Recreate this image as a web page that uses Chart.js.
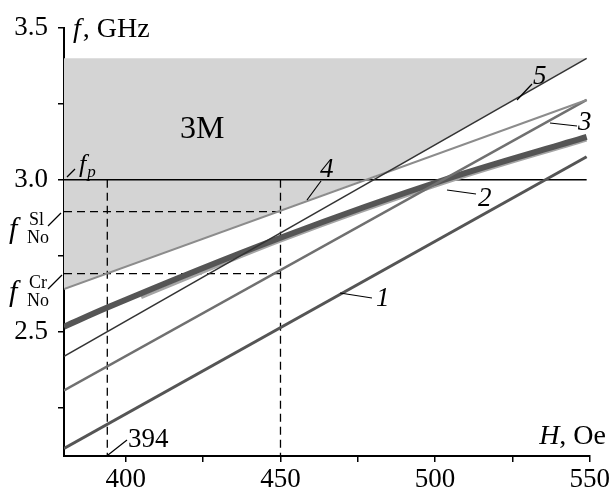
<!DOCTYPE html>
<html>
<head>
<meta charset="utf-8">
<script src="https://cdn.jsdelivr.net/npm/chart.js@4.4.1/dist/chart.umd.min.js"></script>
<style>
  html, body { margin: 0; padding: 0; background: #fff; }
</style>
</head>
<body>
<canvas id="grafico" width="612" height="490"></canvas>
<script>
// ticks dos eixos (menores sem rótulo)
const xTicks = [400, 425, 450, 475, 500, 525, 550];
const xLabels = [400, 450, 500, 550];
const yTicks = [2.25, 2.5, 2.75, 3.0, 3.25, 3.5];
const yLabels = [2.5, 3.0, 3.5];

// curvas 1..5, H em Oe e f em GHz
const h1 = [380, 549];
const f1 = [2.115, 3.076];
const h2 = [380, 394, 450, 503, 549];
const f2 = [2.516, 2.579, 2.809, 3.0, 3.141];
const h2b = [405, 450, 503, 549];
const f2b = [2.612, 2.798, 2.989, 3.131];
const h3 = [380, 549];
const f3 = [2.306, 3.263];
const h4 = [380, 549];
const f4 = [2.640, 3.263];
const h5 = [380, 549];
const f5 = [2.418, 3.400];

// região 3M (cinza)
const zoneH = [380, 487, 549];
const zoneLow = [2.640, 3.037, 3.400];
const zoneTop = [3.4, 3.4, 3.4];

// linhas de referência
const fp = 3.0;
const fSl = 2.895;
const fCr = 2.691;
const hA = 394;
const hB = 450;
const hMin = 380;
const hMax = 549;
const fMin = 2.09;

const pts = (hs, fs) => hs.map((h, i) => ({ x: h, y: fs[i] }));

function linha(data, cor, largura, ordem, extra) {
  return Object.assign({
    data,
    borderColor: cor,
    borderWidth: largura,
    pointRadius: 0,
    fill: false,
    tension: 0,
    order: ordem,
  }, extra || {});
}

const tracejado = { borderDash: [8, 5], borderCapStyle: 'butt' };

// textos e setinhas das legendas
const notas = {
  id: 'notas',
  afterDraw(chart) {
    const c = chart.ctx;
    c.save();
    c.fillStyle = '#000';
    c.strokeStyle = '#000';
    c.lineWidth = 1.2;
    c.textBaseline = 'alphabetic';
    const fam = '"Liberation Serif", "DejaVu Serif", serif';
    const txt = (s, x, y, size, style) => {
      c.font = (style || '') + ' ' + size + 'px ' + fam;
      c.fillText(s, x, y);
      return c.measureText(s).width;
    };
    const larg = (s, size, style) => {
      c.font = (style || '') + ' ' + size + 'px ' + fam;
      return c.measureText(s).width;
    };
    const seg = (x1, y1, x2, y2) => {
      c.beginPath(); c.moveTo(x1, y1); c.lineTo(x2, y2); c.stroke();
    };

    // f, GHz
    let w = txt('f', 73, 37, 28, 'italic');
    txt(', GHz', 73 + w + 2, 37, 28);

    // H, Oe
    const wH = larg('H', 28, 'italic');
    const wO = larg(', Oe', 28);
    txt('H', 606 - wH - wO, 444, 28, 'italic');
    txt(', Oe', 606 - wO, 444, 28);

    // 3M
    txt('3M', 180, 138, 32);

    // f_p
    seg(67, 177, 75, 169);
    w = txt('f', 79, 172, 26, 'italic');
    txt('p', 79 + w + 1, 177, 17, 'italic');

    // f_No^Sl
    seg(48, 226, 61, 213);
    txt('f', 9, 238, 30, 'italic');
    txt('Sl', 29, 225, 18);
    txt('No', 27, 243, 18);

    // f_No^Cr
    seg(48, 289, 62, 275);
    txt('f', 9, 301, 30, 'italic');
    txt('Cr', 29, 288, 18);
    txt('No', 27, 306, 18);

    // 394
    seg(108, 455, 127, 440);
    txt('394', 128, 447, 27);

    // números das curvas
    seg(340, 293, 372, 298);
    txt('1', 376, 306, 27, 'italic');
    seg(447, 190, 476, 194);
    txt('2', 478, 206, 27, 'italic');
    seg(550, 123, 577, 126);
    txt('3', 578, 130, 27, 'italic');
    seg(307, 200, 321, 181);
    txt('4', 320, 177, 27, 'italic');
    seg(517, 100, 532, 84);
    txt('5', 533, 84, 27, 'italic');

    c.restore();
  }
};

const ctx = document.getElementById('grafico');
const chart = new Chart(ctx, {
  type: 'line',
  data: {
    datasets: [
      // região 3M
      linha(pts(zoneH, zoneTop), 'rgba(0,0,0,0)', 0, 20),
      linha(pts(zoneH, zoneLow), 'rgba(0,0,0,0)', 0, 19, { fill: 0, backgroundColor: '#d4d4d4' }),
      // referências
      linha(pts([hMin, hMax], [fp, fp]), '#000', 1.5, 9),
      linha(pts([hMin, hB], [fSl, fSl]), '#000', 1.3, 9, tracejado),
      linha(pts([hMin, hB], [fCr, fCr]), '#000', 1.3, 9, tracejado),
      linha(pts([hA, hA], [fp, fMin]), '#000', 1.3, 9, tracejado),
      linha(pts([hB, hB], [fp, fMin]), '#000', 1.3, 9, tracejado),
      // curvas
      linha(pts(h1, f1), '#555555', 3, 5),
      linha(pts(h2b, f2b), '#a5a5a5', 3, 4, { cubicInterpolationMode: 'monotone' }),
      linha(pts(h2, f2), '#555555', 6, 3, { cubicInterpolationMode: 'monotone' }),
      linha(pts(h3, f3), '#707070', 2.5, 2),
      linha(pts(h4, f4), '#8c8c8c', 2, 1),
      linha(pts(h5, f5), '#333333', 1.5, 0),
    ],
  },
  options: {
    responsive: false,
    animation: false,
    layout: { padding: { top: 28, right: 19, left: 0, bottom: 0 } },
    plugins: {
      legend: { display: false },
      tooltip: { enabled: false },
    },
    scales: {
      x: {
        type: 'linear',
        min: 380,
        max: 550,
        afterBuildTicks: (s) => { s.ticks = xTicks.map((v) => ({ value: v })); },
        afterFit: (s) => { s.height = 34; },
        grid: { drawOnChartArea: false, drawTicks: true, tickLength: 6, color: '#000', lineWidth: 1.5 },
        border: { display: true, color: '#000', width: 2 },
        ticks: {
          color: '#000',
          padding: 2,
          maxRotation: 0,
          autoSkip: false,
          font: { family: 'Liberation Serif', size: 27 },
          callback: (v) => (xLabels.includes(v) ? String(v) : ''),
        },
      },
      y: {
        type: 'linear',
        min: fMin,
        max: 3.5,
        afterBuildTicks: (s) => { s.ticks = yTicks.map((v) => ({ value: v })); },
        afterFit: (s) => { s.width = 64; },
        grid: { drawOnChartArea: false, drawTicks: true, tickLength: 6, color: '#000', lineWidth: 1.5 },
        border: { display: true, color: '#000', width: 2 },
        ticks: {
          color: '#000',
          padding: 10,
          autoSkip: false,
          font: { family: 'Liberation Serif', size: 27 },
          callback: (v) => (yLabels.includes(v) ? v.toFixed(1) : ''),
        },
      },
    },
  },
  plugins: [notas],
});
</script>
</body>
</html>
